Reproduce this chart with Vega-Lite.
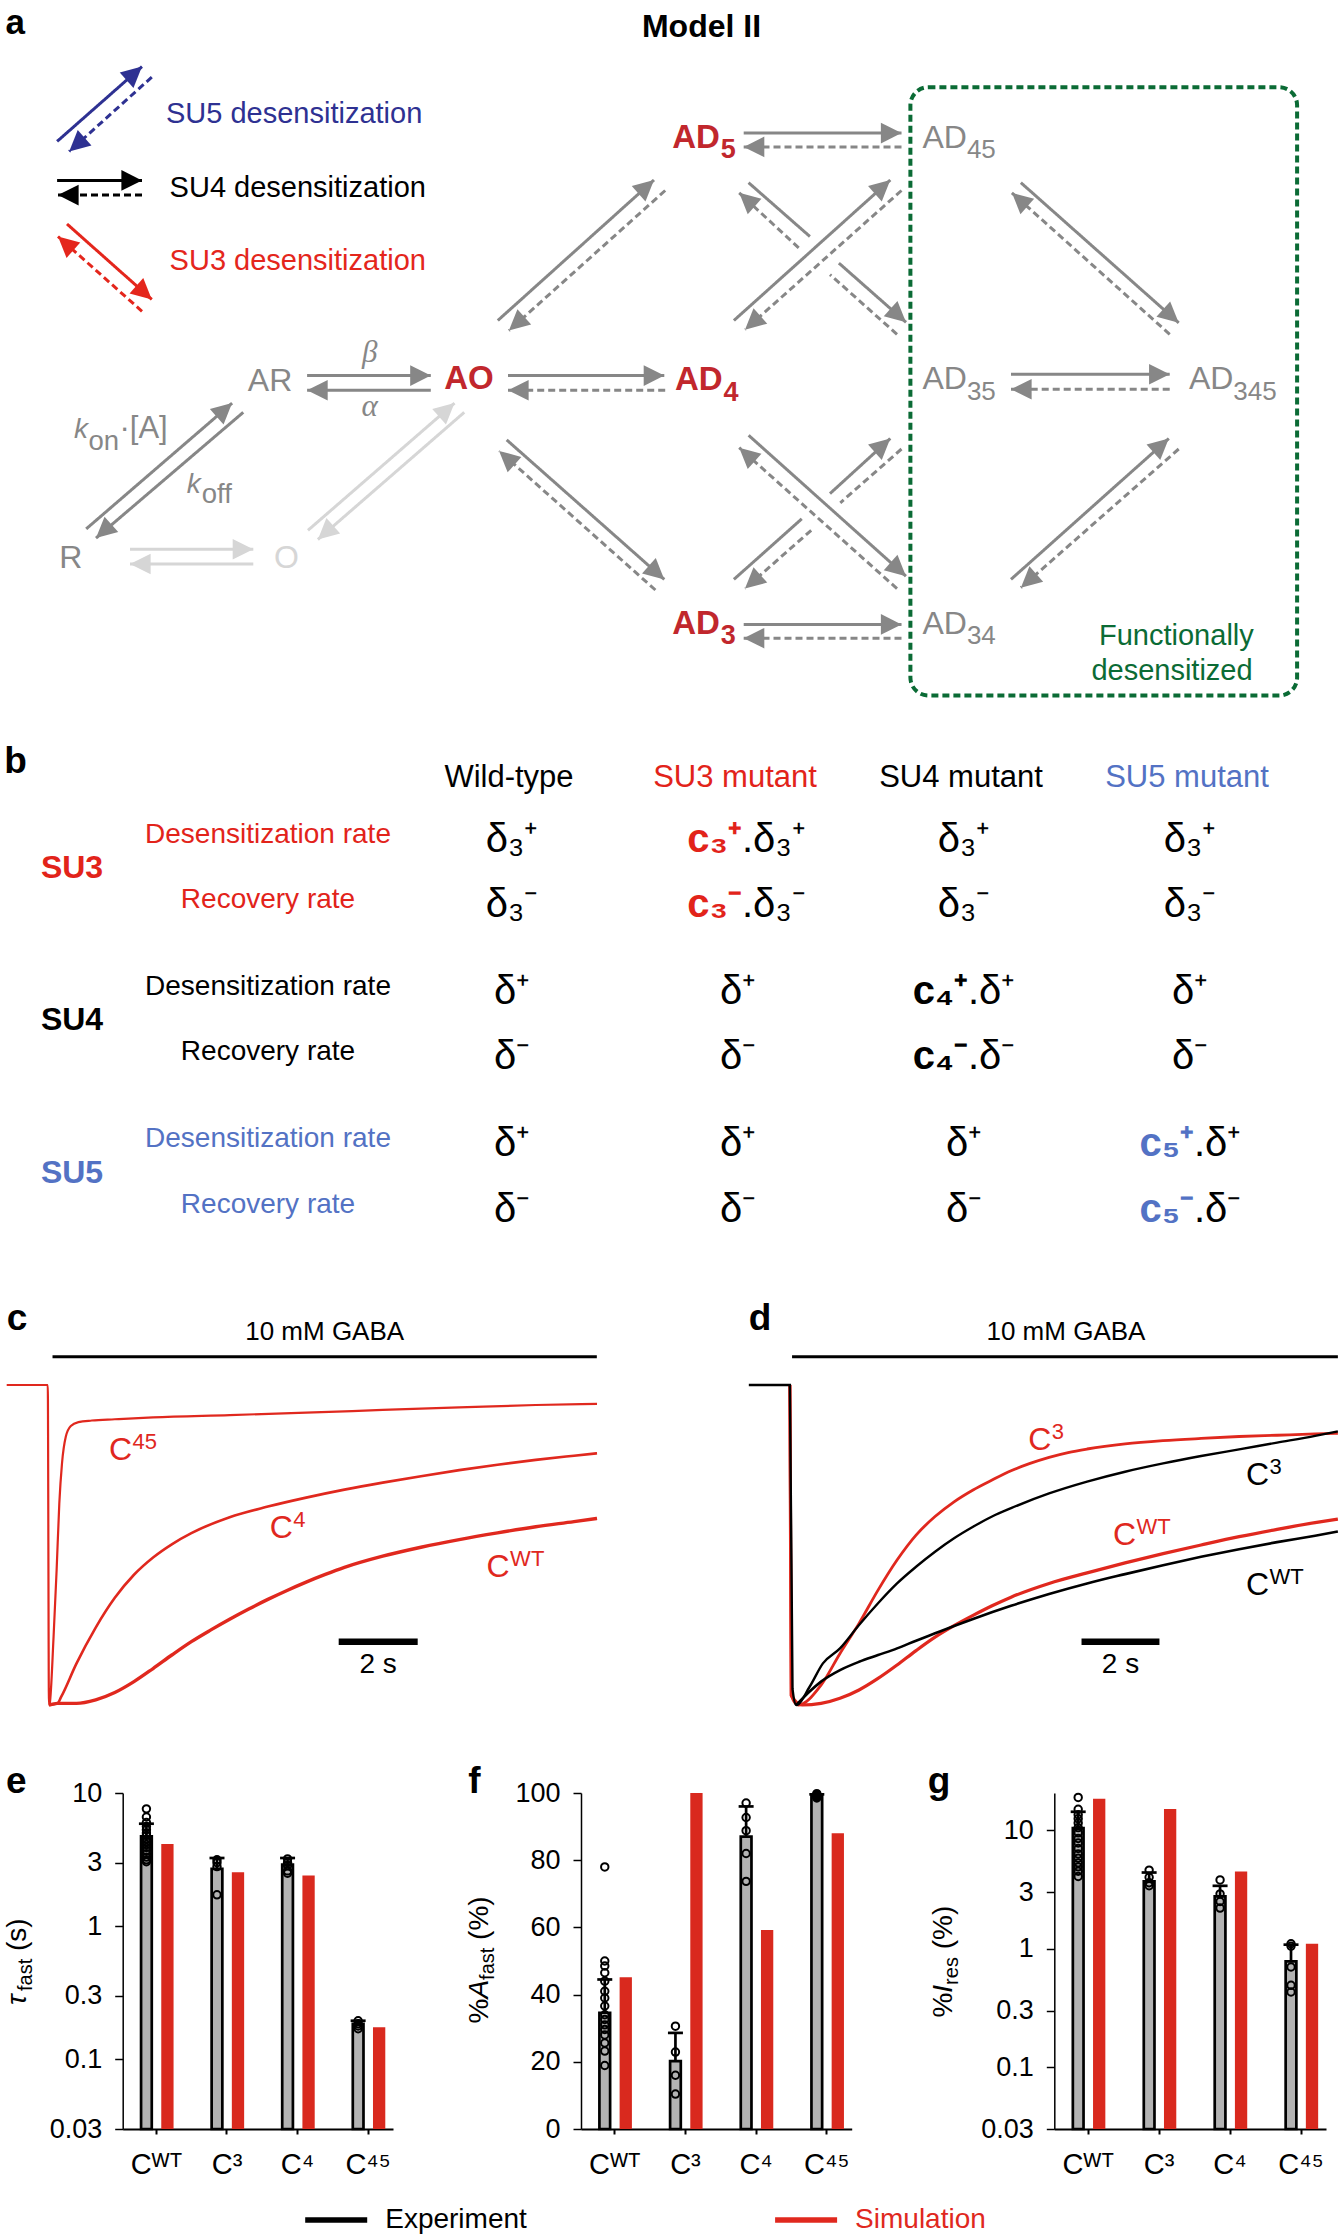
{
"$schema":"https://vega.github.io/schema/vega-lite/v6.json",
"padding":0,"spacing":0,"bounds":"flush","background":"white",
"resolve":{"scale":{"color":"independent"}},
"config":{"view":{"stroke":null},"font":"Liberation Sans"},
"datasets":{
"arrows":[
{"gx":57.1,"gy":141.4,"gx2":142,"gy2":66.6,"line":"solid","tone":"blue","dir":"NE","head":1},
{"gx":151.8,"gy":77.1,"gx2":69.2,"gy2":151.5,"line":"dashed","tone":"blue","dir":"SW","head":1},
{"gx":57.1,"gy":180.4,"gx2":142,"gy2":180.4,"line":"solid","tone":"black","dir":"E","head":1},
{"gx":142,"gy":195.1,"gx2":58,"gy2":195.1,"line":"dashed","tone":"black","dir":"W","head":1},
{"gx":67,"gy":224,"gx2":151.8,"gy2":299.4,"line":"solid","tone":"red","dir":"SE","head":1},
{"gx":142,"gy":311.3,"gx2":58,"gy2":236.5,"line":"dashed","tone":"red","dir":"NW","head":1},
{"gx":307.1,"gy":375.6,"gx2":430.8,"gy2":375.6,"line":"solid","tone":"grey","dir":"E","head":1},
{"gx":430.8,"gy":390.3,"gx2":307.1,"gy2":390.3,"line":"solid","tone":"grey","dir":"W","head":1},
{"gx":86.2,"gy":528.9,"gx2":232.1,"gy2":403.1,"line":"solid","tone":"grey","dir":"NE","head":1},
{"gx":243.3,"gy":412.3,"gx2":96,"gy2":538.1,"line":"solid","tone":"grey","dir":"SW","head":1},
{"gx":130,"gy":549.3,"gx2":253.3,"gy2":549.3,"line":"solid","tone":"light","dir":"E","head":1},
{"gx":253.3,"gy":564,"gx2":130,"gy2":564,"line":"solid","tone":"light","dir":"W","head":1},
{"gx":308,"gy":530.3,"gx2":454.5,"gy2":403.1,"line":"solid","tone":"light","dir":"NE","head":1},
{"gx":464.3,"gy":412.3,"gx2":317.9,"gy2":539.5,"line":"solid","tone":"light","dir":"SW","head":1},
{"gx":497.8,"gy":320.5,"gx2":654,"gy2":180,"line":"solid","tone":"grey","dir":"NE","head":1},
{"gx":665.2,"gy":190.5,"gx2":508.9,"gy2":330.6,"line":"dashed","tone":"grey","dir":"SW","head":1},
{"gx":508,"gy":375.6,"gx2":664.3,"gy2":375.6,"line":"solid","tone":"grey","dir":"E","head":1},
{"gx":665.2,"gy":390.3,"gx2":508,"gy2":390.3,"line":"dashed","tone":"grey","dir":"W","head":1},
{"gx":506.7,"gy":439.9,"gx2":664.3,"gy2":579.4,"line":"solid","tone":"grey","dir":"SE","head":1},
{"gx":655.4,"gy":590,"gx2":499.1,"gy2":450.9,"line":"dashed","tone":"grey","dir":"NW","head":1},
{"gx":743.7,"gy":133.1,"gx2":901.5,"gy2":133.1,"line":"solid","tone":"grey","dir":"E","head":1},
{"gx":901.5,"gy":146.9,"gx2":743.7,"gy2":146.9,"line":"dashed","tone":"grey","dir":"W","head":1},
{"gx":748.6,"gy":182.7,"gx2":809.9,"gy2":236.5,"line":"solid","tone":"grey","dir":"SE","head":0},
{"gx":838.9,"gy":263.1,"gx2":906,"gy2":322.3,"line":"solid","tone":"grey","dir":"SE","head":1},
{"gx":897,"gy":334.3,"gx2":830,"gy2":274.6,"line":"dashed","tone":"grey","dir":"NW","head":0},
{"gx":798.7,"gy":247.9,"gx2":739.2,"gy2":192.8,"line":"dashed","tone":"grey","dir":"NW","head":1},
{"gx":733.9,"gy":320.5,"gx2":890.3,"gy2":180,"line":"solid","tone":"grey","dir":"NE","head":1},
{"gx":901.5,"gy":190.5,"gx2":745,"gy2":329.7,"line":"dashed","tone":"grey","dir":"SW","head":1},
{"gx":748.6,"gy":435.3,"gx2":906,"gy2":576.2,"line":"solid","tone":"grey","dir":"SE","head":1},
{"gx":897,"gy":588.6,"gx2":739.2,"gy2":447.7,"line":"dashed","tone":"grey","dir":"NW","head":1},
{"gx":733.9,"gy":579.4,"gx2":801.8,"gy2":518.8,"line":"solid","tone":"grey","dir":"NE","head":0},
{"gx":830,"gy":493.6,"gx2":890.3,"gy2":438.5,"line":"solid","tone":"grey","dir":"NE","head":1},
{"gx":901.5,"gy":449,"gx2":840.3,"gy2":502.8,"line":"dashed","tone":"grey","dir":"SW","head":0},
{"gx":811.2,"gy":530.3,"gx2":745,"gy2":588.6,"line":"dashed","tone":"grey","dir":"SW","head":1},
{"gx":743.7,"gy":624.4,"gx2":901.5,"gy2":624.4,"line":"solid","tone":"grey","dir":"E","head":1},
{"gx":901.5,"gy":638.2,"gx2":743.7,"gy2":638.2,"line":"dashed","tone":"grey","dir":"W","head":1},
{"gx":1020.9,"gy":182.7,"gx2":1178.7,"gy2":322.8,"line":"solid","tone":"grey","dir":"SE","head":1},
{"gx":1169.7,"gy":334.3,"gx2":1011.9,"gy2":192.8,"line":"dashed","tone":"grey","dir":"NW","head":1},
{"gx":1011,"gy":374.2,"gx2":1169.7,"gy2":374.2,"line":"solid","tone":"grey","dir":"E","head":1},
{"gx":1169.7,"gy":389.3,"gx2":1011,"gy2":389.3,"line":"dashed","tone":"grey","dir":"W","head":1},
{"gx":1011,"gy":579.4,"gx2":1168.8,"gy2":438.5,"line":"solid","tone":"grey","dir":"NE","head":1},
{"gx":1178.7,"gy":449,"gx2":1020.9,"gy2":587.7,"line":"dashed","tone":"grey","dir":"SW","head":1}
],
"rowlab":[
{"col":"lbl","grp":"SU3","tone":"tred","kind":"d","s":"Desensitization rate"},
{"col":"lbl","grp":"SU3","tone":"tred","kind":"r","s":"Recovery rate"},
{"col":"lbl","grp":"SU4","tone":"tblack","kind":"d","s":"Desensitization rate"},
{"col":"lbl","grp":"SU4","tone":"tblack","kind":"r","s":"Recovery rate"},
{"col":"lbl","grp":"SU5","tone":"tblue","kind":"d","s":"Desensitization rate"},
{"col":"lbl","grp":"SU5","tone":"tblue","kind":"r","s":"Recovery rate"}
],
"cells":[
{"col":"WT","grp":"SU3","kind":"d","s":"δ₃⁺"},{"col":"SU4m","grp":"SU3","kind":"d","s":"δ₃⁺"},{"col":"SU5m","grp":"SU3","kind":"d","s":"δ₃⁺"},
{"col":"WT","grp":"SU3","kind":"r","s":"δ₃⁻"},{"col":"SU4m","grp":"SU3","kind":"r","s":"δ₃⁻"},{"col":"SU5m","grp":"SU3","kind":"r","s":"δ₃⁻"},
{"col":"WT","grp":"SU4","kind":"d","s":"δ⁺"},{"col":"SU3m","grp":"SU4","kind":"d","s":"δ⁺"},{"col":"SU5m","grp":"SU4","kind":"d","s":"δ⁺"},
{"col":"WT","grp":"SU4","kind":"r","s":"δ⁻"},{"col":"SU3m","grp":"SU4","kind":"r","s":"δ⁻"},{"col":"SU5m","grp":"SU4","kind":"r","s":"δ⁻"},
{"col":"WT","grp":"SU5","kind":"d","s":"δ⁺"},{"col":"SU3m","grp":"SU5","kind":"d","s":"δ⁺"},{"col":"SU4m","grp":"SU5","kind":"d","s":"δ⁺"},
{"col":"WT","grp":"SU5","kind":"r","s":"δ⁻"},{"col":"SU3m","grp":"SU5","kind":"r","s":"δ⁻"},{"col":"SU4m","grp":"SU5","kind":"r","s":"δ⁻"}
],
"mods":[
{"col":"SU3m","grp":"SU3","kind":"d","c":"c₃⁺","s":".δ₃⁺","tone":"tred"},
{"col":"SU3m","grp":"SU3","kind":"r","c":"c₃⁻","s":".δ₃⁻","tone":"tred"},
{"col":"SU4m","grp":"SU4","kind":"d","c":"c₄⁺","s":".δ⁺","tone":"tblack"},
{"col":"SU4m","grp":"SU4","kind":"r","c":"c₄⁻","s":".δ⁻","tone":"tblack"},
{"col":"SU5m","grp":"SU5","kind":"d","c":"c₅⁺","s":".δ⁺","tone":"tblue"},
{"col":"SU5m","grp":"SU5","kind":"r","c":"c₅⁻","s":".δ⁻","tone":"tblue"}
],
"c_tr":[
{"s":"C45","t":0,"I":0},{"s":"C45","t":1.04,"I":0},{"s":"C45","t":1.07,"I":-1},{"s":"C45","t":1.09,"I":-0.995},{"s":"C45","t":1.187,"I":-0.786},{"s":"C45","t":1.264,"I":-0.578},{"s":"C45","t":1.332,"I":-0.37},{"s":"C45","t":1.4,"I":-0.245},{"s":"C45","t":1.497,"I":-0.161},{"s":"C45","t":1.623,"I":-0.128},{"s":"C45","t":1.816,"I":-0.116},{"s":"C45","t":2.156,"I":-0.111},{"s":"C45","t":2.737,"I":-0.107},{"s":"C45","t":3.706,"I":-0.101},{"s":"C45","t":5.644,"I":-0.094},{"s":"C45","t":7.581,"I":-0.0865},{"s":"C45","t":9.519,"I":-0.078},{"s":"C45","t":11.457,"I":-0.07},{"s":"C45","t":13.394,"I":-0.0625},{"s":"C45","t":14.945,"I":-0.059},
{"s":"C4","t":1.07,"I":-1},{"s":"C4","t":1.284,"I":-0.995},{"s":"C4","t":1.381,"I":-0.974},{"s":"C4","t":1.768,"I":-0.87},{"s":"C4","t":2.253,"I":-0.758},{"s":"C4","t":2.737,"I":-0.665},{"s":"C4","t":3.222,"I":-0.593},{"s":"C4","t":3.706,"I":-0.539},{"s":"C4","t":4.19,"I":-0.497},{"s":"C4","t":4.675,"I":-0.463},{"s":"C4","t":5.644,"I":-0.413},{"s":"C4","t":6.612,"I":-0.38},{"s":"C4","t":7.581,"I":-0.352},{"s":"C4","t":8.55,"I":-0.327},{"s":"C4","t":9.519,"I":-0.305},{"s":"C4","t":10.488,"I":-0.285},{"s":"C4","t":11.457,"I":-0.266},{"s":"C4","t":12.426,"I":-0.249},{"s":"C4","t":13.394,"I":-0.234},{"s":"C4","t":14.363,"I":-0.221},{"s":"C4","t":14.945,"I":-0.2135},
{"s":"CWT","t":1.07,"I":-1},{"s":"CWT","t":1.284,"I":-0.995},{"s":"CWT","t":1.768,"I":-0.995},{"s":"CWT","t":2.253,"I":-0.984},{"s":"CWT","t":2.737,"I":-0.961},{"s":"CWT","t":3.222,"I":-0.927},{"s":"CWT","t":3.706,"I":-0.886},{"s":"CWT","t":4.19,"I":-0.843},{"s":"CWT","t":4.675,"I":-0.802},{"s":"CWT","t":5.159,"I":-0.766},{"s":"CWT","t":5.644,"I":-0.732},{"s":"CWT","t":6.128,"I":-0.7},{"s":"CWT","t":6.612,"I":-0.67},{"s":"CWT","t":7.097,"I":-0.642},{"s":"CWT","t":7.581,"I":-0.616},{"s":"CWT","t":8.066,"I":-0.592},{"s":"CWT","t":8.55,"I":-0.57},{"s":"CWT","t":9.519,"I":-0.535},{"s":"CWT","t":10.488,"I":-0.507},{"s":"CWT","t":11.457,"I":-0.483},{"s":"CWT","t":12.426,"I":-0.462},{"s":"CWT","t":13.394,"I":-0.443},{"s":"CWT","t":14.363,"I":-0.427},{"s":"CWT","t":14.945,"I":-0.417}
],
"d_tr":[
{"s":"C3sim","t":1.054,"I":0},{"s":"C3sim","t":1.09,"I":-0.97},{"s":"C3sim","t":1.268,"I":-1},{"s":"C3sim","t":1.854,"I":-0.938},{"s":"C3sim","t":2.341,"I":-0.839},{"s":"C3sim","t":2.829,"I":-0.745},{"s":"C3sim","t":3.317,"I":-0.641},{"s":"C3sim","t":3.805,"I":-0.547},{"s":"C3sim","t":4.293,"I":-0.469},{"s":"C3sim","t":4.78,"I":-0.411},{"s":"C3sim","t":5.268,"I":-0.365},{"s":"C3sim","t":5.756,"I":-0.328},{"s":"C3sim","t":6.244,"I":-0.297},{"s":"C3sim","t":6.731,"I":-0.268},{"s":"C3sim","t":7.219,"I":-0.245},{"s":"C3sim","t":7.707,"I":-0.226},{"s":"C3sim","t":8.195,"I":-0.211},{"s":"C3sim","t":8.683,"I":-0.2},{"s":"C3sim","t":9.658,"I":-0.184},{"s":"C3sim","t":10.634,"I":-0.174},{"s":"C3sim","t":11.609,"I":-0.167},{"s":"C3sim","t":12.585,"I":-0.161},{"s":"C3sim","t":13.56,"I":-0.157},{"s":"C3sim","t":14.536,"I":-0.153},{"s":"C3sim","t":15.12,"I":-0.151},
{"s":"WTsim","t":1.054,"I":0},{"s":"WTsim","t":1.09,"I":-0.97},{"s":"WTsim","t":1.366,"I":-1},{"s":"WTsim","t":1.854,"I":-0.995},{"s":"WTsim","t":2.341,"I":-0.979},{"s":"WTsim","t":2.829,"I":-0.953},{"s":"WTsim","t":3.317,"I":-0.917},{"s":"WTsim","t":3.805,"I":-0.875},{"s":"WTsim","t":4.293,"I":-0.83},{"s":"WTsim","t":4.78,"I":-0.788},{"s":"WTsim","t":5.268,"I":-0.752},{"s":"WTsim","t":5.756,"I":-0.72},{"s":"WTsim","t":6.244,"I":-0.69},{"s":"WTsim","t":6.731,"I":-0.663},{"s":"WTsim","t":7.707,"I":-0.62},{"s":"WTsim","t":8.683,"I":-0.587},{"s":"WTsim","t":9.658,"I":-0.556},{"s":"WTsim","t":10.634,"I":-0.527},{"s":"WTsim","t":11.609,"I":-0.5},{"s":"WTsim","t":12.585,"I":-0.474},{"s":"WTsim","t":13.56,"I":-0.451},{"s":"WTsim","t":14.536,"I":-0.43},{"s":"WTsim","t":15.12,"I":-0.419},
{"s":"C3exp","t":0,"I":0},{"s":"C3exp","t":1.054,"I":0},{"s":"C3exp","t":1.122,"I":-0.95},{"s":"C3exp","t":1.219,"I":-1},{"s":"C3exp","t":1.561,"I":-0.943},{"s":"C3exp","t":1.902,"I":-0.87},{"s":"C3exp","t":2.341,"I":-0.823},{"s":"C3exp","t":2.829,"I":-0.75},{"s":"C3exp","t":3.317,"I":-0.682},{"s":"C3exp","t":3.805,"I":-0.62},{"s":"C3exp","t":4.293,"I":-0.568},{"s":"C3exp","t":4.78,"I":-0.521},{"s":"C3exp","t":5.268,"I":-0.479},{"s":"C3exp","t":5.756,"I":-0.443},{"s":"C3exp","t":6.244,"I":-0.411},{"s":"C3exp","t":6.731,"I":-0.385},{"s":"C3exp","t":7.707,"I":-0.339},{"s":"C3exp","t":8.683,"I":-0.302},{"s":"C3exp","t":9.658,"I":-0.271},{"s":"C3exp","t":10.634,"I":-0.245},{"s":"C3exp","t":11.609,"I":-0.222},{"s":"C3exp","t":12.585,"I":-0.201},{"s":"C3exp","t":13.56,"I":-0.18},{"s":"C3exp","t":14.536,"I":-0.159},{"s":"C3exp","t":15.12,"I":-0.145},
{"s":"WTexp","t":1.219,"I":-1},{"s":"WTexp","t":1.561,"I":-0.958},{"s":"WTexp","t":1.854,"I":-0.927},{"s":"WTexp","t":2.341,"I":-0.891},{"s":"WTexp","t":2.829,"I":-0.865},{"s":"WTexp","t":3.317,"I":-0.844},{"s":"WTexp","t":3.805,"I":-0.823},{"s":"WTexp","t":4.293,"I":-0.799},{"s":"WTexp","t":4.78,"I":-0.776},{"s":"WTexp","t":5.268,"I":-0.753},{"s":"WTexp","t":5.756,"I":-0.731},{"s":"WTexp","t":6.731,"I":-0.69},{"s":"WTexp","t":7.707,"I":-0.653},{"s":"WTexp","t":8.683,"I":-0.62},{"s":"WTexp","t":9.658,"I":-0.591},{"s":"WTexp","t":10.634,"I":-0.563},{"s":"WTexp","t":11.609,"I":-0.537},{"s":"WTexp","t":12.585,"I":-0.513},{"s":"WTexp","t":13.56,"I":-0.491},{"s":"WTexp","t":14.536,"I":-0.471},{"s":"WTexp","t":15.12,"I":-0.458}
],
"e_bars":[{"cond":"Cᵂᵀ","exp":4.72,"up":5.88,"sim":4.14},{"cond":"C³","exp":2.69,"up":3.25,"sim":2.54},{"cond":"C⁴","exp":2.9,"up":3.25,"sim":2.4},{"cond":"C⁴⁵","exp":0.185,"up":0.195,"sim":0.174}],
"e_pts":[{"cond":"Cᵂᵀ","v":7.6},{"cond":"Cᵂᵀ","v":6.6},{"cond":"Cᵂᵀ","v":6.0},{"cond":"Cᵂᵀ","v":5.6},{"cond":"Cᵂᵀ","v":5.3},{"cond":"Cᵂᵀ","v":5.0},{"cond":"Cᵂᵀ","v":4.8},{"cond":"Cᵂᵀ","v":4.5},{"cond":"Cᵂᵀ","v":4.3},{"cond":"Cᵂᵀ","v":4.1},{"cond":"Cᵂᵀ","v":3.9},{"cond":"Cᵂᵀ","v":3.7},{"cond":"Cᵂᵀ","v":3.5},{"cond":"Cᵂᵀ","v":3.3},{"cond":"Cᵂᵀ","v":3.15},{"cond":"Cᵂᵀ","v":3.05},
{"cond":"C³","v":3.15},{"cond":"C³","v":3.0},{"cond":"C³","v":2.8},{"cond":"C³","v":1.72},
{"cond":"C⁴","v":3.2},{"cond":"C⁴","v":3.0},{"cond":"C⁴","v":2.85},{"cond":"C⁴","v":2.6},{"cond":"C⁴","v":2.5},
{"cond":"C⁴⁵","v":0.195},{"cond":"C⁴⁵","v":0.185},{"cond":"C⁴⁵","v":0.178},{"cond":"C⁴⁵","v":0.17}],
"f_bars":[{"cond":"Cᵂᵀ","exp":34.6,"up":44.5,"sim":45.2},{"cond":"C³","exp":20.2,"up":28.6,"sim":100},{"cond":"C⁴","exp":87,"up":96,"sim":59.2},{"cond":"C⁴⁵","exp":99.2,"up":99.6,"sim":88}],
"f_pts":[{"cond":"Cᵂᵀ","v":78},{"cond":"Cᵂᵀ","v":50},{"cond":"Cᵂᵀ","v":48.5},{"cond":"Cᵂᵀ","v":46.5},{"cond":"Cᵂᵀ","v":44},{"cond":"Cᵂᵀ","v":41},{"cond":"Cᵂᵀ","v":39},{"cond":"Cᵂᵀ","v":36.6},{"cond":"Cᵂᵀ","v":34},{"cond":"Cᵂᵀ","v":32.6},{"cond":"Cᵂᵀ","v":31},{"cond":"Cᵂᵀ","v":29.6},{"cond":"Cᵂᵀ","v":28},{"cond":"Cᵂᵀ","v":25.6},{"cond":"Cᵂᵀ","v":23.2},{"cond":"Cᵂᵀ","v":18.9},
{"cond":"C³","v":30.6},{"cond":"C³","v":22.9},{"cond":"C³","v":16},{"cond":"C³","v":10.4},
{"cond":"C⁴","v":97},{"cond":"C⁴","v":92.7},{"cond":"C⁴","v":88.8},{"cond":"C⁴","v":82},{"cond":"C⁴","v":73.7},
{"cond":"C⁴⁵","v":99.8},{"cond":"C⁴⁵","v":99.5},{"cond":"C⁴⁵","v":99.2},{"cond":"C⁴⁵","v":98.8},{"cond":"C⁴⁵","v":98.5}],
"g_bars":[{"cond":"Cᵂᵀ","exp":10.4,"up":14.3,"sim":18.4},{"cond":"C³","exp":3.69,"up":4.39,"sim":15.1},{"cond":"C⁴","exp":2.76,"up":3.39,"sim":4.47},{"cond":"C⁴⁵","exp":0.78,"up":1.08,"sim":1.1}],
"g_pts":[{"cond":"Cᵂᵀ","v":18.9},{"cond":"Cᵂᵀ","v":15},{"cond":"Cᵂᵀ","v":13.5},{"cond":"Cᵂᵀ","v":12.5},{"cond":"Cᵂᵀ","v":11.5},{"cond":"Cᵂᵀ","v":10.5},{"cond":"Cᵂᵀ","v":9.5},{"cond":"Cᵂᵀ","v":8.5},{"cond":"Cᵂᵀ","v":7.8},{"cond":"Cᵂᵀ","v":7.0},{"cond":"Cᵂᵀ","v":6.3},{"cond":"Cᵂᵀ","v":5.8},{"cond":"Cᵂᵀ","v":5.3},{"cond":"Cᵂᵀ","v":4.9},{"cond":"Cᵂᵀ","v":4.5},{"cond":"Cᵂᵀ","v":4.06},
{"cond":"C³","v":4.6},{"cond":"C³","v":4.0},{"cond":"C³","v":3.6},{"cond":"C³","v":3.4},
{"cond":"C⁴","v":3.8},{"cond":"C⁴","v":2.9},{"cond":"C⁴","v":2.5},{"cond":"C⁴","v":2.2},
{"cond":"C⁴⁵","v":1.1},{"cond":"C⁴⁵","v":1.05},{"cond":"C⁴⁵","v":0.7},{"cond":"C⁴⁵","v":0.49},{"cond":"C⁴⁵","v":0.43}]
},
"vconcat":[
{
"width":1341,"height":713,
"encoding":{
"x":{"field":"gx","type":"quantitative","scale":{"domain":[0,1341],"nice":false,"zero":false},"axis":null},
"y":{"field":"gy","type":"quantitative","scale":{"domain":[0,713],"nice":false,"zero":false,"reverse":true},"axis":null}
},
"layer":[
{"data":{"values":[{"gx":910.4,"gy":87.2,"gx2":1297.1,"gy2":695.6}]},
 "mark":{"type":"rect","fill":"#ffffff","fillOpacity":0,"stroke":"#0b6b35","strokeWidth":4,"strokeDash":[7,4],"cornerRadius":18},
 "encoding":{"x2":{"field":"gx2"},"y2":{"field":"gy2"}}},
{"data":{"name":"arrows"},
 "mark":{"type":"rule","strokeWidth":3},
 "encoding":{"x2":{"field":"gx2"},"y2":{"field":"gy2"},
  "color":{"field":"tone","type":"nominal","scale":{"domain":["grey","light","black","blue","red","dred","green"],"range":["#878787","#d6d6d6","#000000","#2e3192","#e4261c","#c1272d","#0b6b35"]},"legend":null},
  "strokeDash":{"field":"line","type":"nominal","scale":{"domain":["solid","dashed"],"range":[[1,0],[7,4]]},"legend":null}}},
{"data":{"name":"arrows"},"transform":[{"filter":"datum.head == 1"}],
 "mark":{"type":"point","shape":"M0,0L0.5,1L-0.5,1Z","filled":true,"size":1700,"opacity":1,"strokeWidth":0},
 "encoding":{"x":{"field":"gx2","type":"quantitative"},"y":{"field":"gy2","type":"quantitative"},
  "color":{"field":"tone","type":"nominal","legend":null},
  "angle":{"field":"dir","type":"ordinal","scale":{"type":"ordinal","domain":["E","W","NE","SW","SE","NW"],"range":[90,270,48.3,228.3,131.7,311.7]},"legend":null}}},
{"data":{"values":[{"gx":5.4,"gy":34,"s":"a"}]},"mark":{"type":"text","fontSize":35,"fontWeight":"bold","align":"left","baseline":"alphabetic","color":"#000"},"encoding":{"text":{"field":"s"}}},
{"data":{"values":[{"gx":701.5,"gy":36.7,"s":"Model II"}]},"mark":{"type":"text","fontSize":32,"fontWeight":"bold","align":"center","baseline":"alphabetic","color":"#000"},"encoding":{"text":{"field":"s"}}},
{"data":{"values":[{"gx":166,"gy":123,"s":"SU5 desensitization","tone":"blue"},{"gx":169.6,"gy":197.4,"s":"SU4 desensitization","tone":"black"},{"gx":169.6,"gy":270,"s":"SU3 desensitization","tone":"red"}]},
 "mark":{"type":"text","fontSize":29,"align":"left","baseline":"alphabetic"},"encoding":{"text":{"field":"s"},"color":{"field":"tone","type":"nominal","legend":null}}},
{"data":{"values":[{"gx":247.8,"gy":391.2,"s":"AR","tone":"grey"},{"gx":59.3,"gy":568.3,"s":"R","tone":"grey"},{"gx":274,"gy":568.3,"s":"O","tone":"light"},{"gx":922.5,"gy":147.8,"s":"AD","tone":"grey"},{"gx":922.5,"gy":389.3,"s":"AD","tone":"grey"},{"gx":922.5,"gy":633.6,"s":"AD","tone":"grey"},{"gx":1188.9,"gy":389.3,"s":"AD","tone":"grey"}]},
 "mark":{"type":"text","fontSize":32,"align":"left","baseline":"alphabetic"},"encoding":{"text":{"field":"s"},"color":{"field":"tone","type":"nominal","legend":null}}},
{"data":{"values":[{"gx":922.5,"gy":147.8,"s":"45"},{"gx":922.5,"gy":389.3,"s":"35"},{"gx":922.5,"gy":633.6,"s":"34"},{"gx":1188.9,"gy":389.3,"s":"345"}]},
 "mark":{"type":"text","fontSize":26,"align":"left","baseline":"alphabetic","dx":44.4,"dy":10.6,"color":"#878787"},"encoding":{"text":{"field":"s"}}},
{"data":{"values":[{"gx":444.2,"gy":389.3,"s":"AO"},{"gx":672.2,"gy":147.8,"s":"AD"},{"gx":674.9,"gy":390.3,"s":"AD"},{"gx":672.2,"gy":633.6,"s":"AD"}]},
 "mark":{"type":"text","fontSize":33,"fontWeight":"bold","align":"left","baseline":"alphabetic","color":"#c1272d"},"encoding":{"text":{"field":"s"}}},
{"data":{"values":[{"gx":672.2,"gy":147.8,"s":"5"},{"gx":674.9,"gy":390.3,"s":"4"},{"gx":672.2,"gy":633.6,"s":"3"}]},
 "mark":{"type":"text","fontSize":27,"fontWeight":"bold","align":"left","baseline":"alphabetic","dx":48.5,"dy":10.6,"color":"#c1272d"},"encoding":{"text":{"field":"s"}}},
{"data":{"values":[{"gx":74,"gy":438.3,"s":"k"},{"gx":186.7,"gy":493.3,"s":"k"}]},
 "mark":{"type":"text","fontSize":28,"fontStyle":"italic","align":"left","baseline":"alphabetic","color":"#878787"},"encoding":{"text":{"field":"s"}}},
{"data":{"values":[{"gx":88.5,"gy":450,"s":"on"},{"gx":201.7,"gy":503.3,"s":"off"}]},
 "mark":{"type":"text","fontSize":27.5,"align":"left","baseline":"alphabetic","color":"#878787"},"encoding":{"text":{"field":"s"}}},
{"data":{"values":[{"gx":119.5,"gy":438.3,"s":"·[A]"}]},
 "mark":{"type":"text","fontSize":31,"align":"left","baseline":"alphabetic","color":"#878787"},"encoding":{"text":{"field":"s"}}},
{"data":{"values":[{"gx":369.6,"gy":362,"s":"β"},{"gx":369.6,"gy":415.5,"s":"α"}]},
 "mark":{"type":"text","fontSize":31,"font":"Liberation Serif","fontStyle":"italic","align":"center","baseline":"alphabetic","color":"#878787"},"encoding":{"text":{"field":"s"}}},
{"data":{"values":[{"gx":1176.4,"gy":645,"s":"Functionally"},{"gx":1172,"gy":679.5,"s":"desensitized"}]},
 "mark":{"type":"text","fontSize":29,"align":"center","baseline":"alphabetic","color":"#0b6b35"},"encoding":{"text":{"field":"s"}}}
]
},
{
"width":1341,"height":87,
"encoding":{
"x":{"field":"col","type":"nominal","scale":{"type":"point","domain":["grp","lbl","WT","SU3m","SU4m","SU5m"],"range":[60,1190],"padding":0},"axis":null},
"y":{"datum":0.149,"type":"quantitative","scale":{"domain":[0,1],"nice":false},"axis":null}
},
"layer":[
{"data":{"values":[{"col":"WT","s":"Wild-type","tone":"tblack"},{"col":"SU3m","s":"SU3 mutant","tone":"tred"},{"col":"SU4m","s":"SU4 mutant","tone":"tblack"},{"col":"SU5m","s":"SU5 mutant","tone":"tblue"}]},
 "mark":{"type":"text","fontSize":31,"dx":-3,"align":"center","baseline":"alphabetic"},
 "encoding":{"text":{"field":"s"},"color":{"field":"tone","type":"nominal","scale":{"domain":["tblack","tred","tblue"],"range":["#000000","#e2231a","#5372c4"]},"legend":null}}},
{"data":{"values":[{"col":"grp","s":"b"}]},
 "mark":{"type":"text","fontSize":37,"fontWeight":"bold","align":"left","dx":-55.7,"baseline":"alphabetic","color":"#000"},
 "encoding":{"text":{"field":"s"},"y":{"datum":0.307,"type":"quantitative"}}}
]
},
{
"width":1341,"height":441,
"encoding":{
"x":{"field":"col","type":"nominal","scale":{"type":"point","domain":["grp","lbl","WT","SU3m","SU4m","SU5m"],"range":[60,1190],"padding":0},"axis":null},
"y":{"field":"grp","type":"nominal","scale":{"type":"point","domain":["SU3","SU4","SU5"],"range":[75.5,379.7],"padding":0},"axis":null}
},
"layer":[
{"data":{"values":[{"col":"grp","grp":"SU3","tone":"tred"},{"col":"grp","grp":"SU4","tone":"tblack"},{"col":"grp","grp":"SU5","tone":"tblue"}]},
 "mark":{"type":"text","fontSize":32,"fontWeight":"bold","dx":12,"dy":2.8,"align":"center","baseline":"alphabetic"},
 "encoding":{"text":{"field":"grp"},"color":{"field":"tone","type":"nominal","scale":{"domain":["tblack","tred","tblue"],"range":["#000000","#e2231a","#5372c4"]},"legend":null}}},
{"data":{"name":"rowlab"},"transform":[{"filter":"datum.kind == 'd'"}],
 "mark":{"type":"text","fontSize":28,"dx":-18,"dy":-32.8,"align":"center","baseline":"alphabetic"},
 "encoding":{"text":{"field":"s"},"color":{"field":"tone","type":"nominal","legend":null}}},
{"data":{"name":"rowlab"},"transform":[{"filter":"datum.kind == 'r'"}],
 "mark":{"type":"text","fontSize":28,"dx":-18,"dy":32.8,"align":"center","baseline":"alphabetic"},
 "encoding":{"text":{"field":"s"},"color":{"field":"tone","type":"nominal","legend":null}}},
{"data":{"name":"cells"},"transform":[{"filter":"datum.kind == 'd'"}],
 "mark":{"type":"text","fontSize":40,"dy":-23.8,"align":"center","baseline":"alphabetic","color":"#000"},
 "encoding":{"text":{"field":"s"}}},
{"data":{"name":"cells"},"transform":[{"filter":"datum.kind == 'r'"}],
 "mark":{"type":"text","fontSize":40,"dy":41.8,"align":"center","baseline":"alphabetic","color":"#000"},
 "encoding":{"text":{"field":"s"}}},
{"data":{"name":"mods"},"transform":[{"filter":"datum.kind == 'd'"}],
 "mark":{"type":"text","fontSize":40,"fontWeight":"bold","dx":4,"dy":-23.8,"align":"right","baseline":"alphabetic"},
 "encoding":{"text":{"field":"c"},"color":{"field":"tone","type":"nominal","legend":null}}},
{"data":{"name":"mods"},"transform":[{"filter":"datum.kind == 'r'"}],
 "mark":{"type":"text","fontSize":40,"fontWeight":"bold","dx":4,"dy":41.8,"align":"right","baseline":"alphabetic"},
 "encoding":{"text":{"field":"c"},"color":{"field":"tone","type":"nominal","legend":null}}},
{"data":{"name":"mods"},"transform":[{"filter":"datum.kind == 'd'"}],
 "mark":{"type":"text","fontSize":40,"dx":4,"dy":-23.8,"align":"left","baseline":"alphabetic","color":"#000"},
 "encoding":{"text":{"field":"s"}}},
{"data":{"name":"mods"},"transform":[{"filter":"datum.kind == 'r'"}],
 "mark":{"type":"text","fontSize":40,"dx":4,"dy":41.8,"align":"left","baseline":"alphabetic","color":"#000"},
 "encoding":{"text":{"field":"s"}}}
]
},
{
"width":1341,"height":552,
"resolve":{"scale":{"x":"independent","color":"independent"}},
"encoding":{"y":{"field":"I","type":"quantitative","scale":{"domain":[-1.275,0.45],"nice":false,"zero":false},"axis":null}},
"layer":[
{
"encoding":{"x":{"field":"t","type":"quantitative","scale":{"domain":[-0.1696,33.78],"nice":false,"zero":false},"axis":null}},
"layer":[
{"data":{"values":[{"t":1.16,"t2":14.94,"I":0.088}]},"mark":{"type":"rule","strokeWidth":3,"color":"#000"},"encoding":{"x2":{"field":"t2"}}},
{"data":{"values":[{"t":8.05,"I":0.1406,"s":"10 mM GABA"}]},"mark":{"type":"text","fontSize":26,"align":"center","baseline":"alphabetic","color":"#000"},"encoding":{"text":{"field":"s"}}},
{"data":{"values":[{"t":0,"I":0.172,"s":"c"}]},"mark":{"type":"text","fontSize":37,"fontWeight":"bold","align":"left","baseline":"alphabetic","color":"#000"},"encoding":{"text":{"field":"s"}}},
{"data":{"name":"c_tr"},"transform":[{"filter":"datum.s == 'C45'"}],"mark":{"type":"line","color":"#e0281e","strokeWidth":2.2,"interpolate":"monotone"},"encoding":{}},
{"data":{"name":"c_tr"},"transform":[{"filter":"datum.s == 'C4'"}],"mark":{"type":"line","color":"#e0281e","strokeWidth":2.6,"interpolate":"monotone"},"encoding":{}},
{"data":{"name":"c_tr"},"transform":[{"filter":"datum.s == 'CWT'"}],"mark":{"type":"line","color":"#e0281e","strokeWidth":3.4,"interpolate":"monotone"},"encoding":{}},
{"data":{"values":[{"t":2.59,"I":-0.234,"sup":"45"},{"t":6.66,"I":-0.479,"sup":"4"},{"t":12.15,"I":-0.601,"sup":"WT"}]},
 "layer":[
  {"mark":{"type":"text","text":"C","fontSize":32,"align":"left","baseline":"alphabetic","color":"#e0281e"}},
  {"mark":{"type":"text","fontSize":22,"align":"left","baseline":"alphabetic","dx":23.5,"dy":-11,"color":"#e0281e"},"encoding":{"text":{"field":"sup"}}}
 ]},
{"data":{"values":[{"t":8.405,"t2":10.405,"I":-0.802}]},"mark":{"type":"rule","strokeWidth":6.5,"color":"#000"},"encoding":{"x2":{"field":"t2"}}},
{"data":{"values":[{"t":9.405,"I":-0.9,"s":"2 s"}]},"mark":{"type":"text","fontSize":28,"align":"center","baseline":"alphabetic","color":"#000"},"encoding":{"text":{"field":"s"}}}
]
},
{
"encoding":{"x":{"field":"t","type":"quantitative","scale":{"domain":[-19.22,15.2],"nice":false,"zero":false},"axis":null}},
"layer":[
{"data":{"values":[{"t":1.11,"t2":15.12,"I":0.088}]},"mark":{"type":"rule","strokeWidth":3,"color":"#000"},"encoding":{"x2":{"field":"t2"}}},
{"data":{"values":[{"t":8.14,"I":0.1406,"s":"10 mM GABA"}]},"mark":{"type":"text","fontSize":26,"align":"center","baseline":"alphabetic","color":"#000"},"encoding":{"text":{"field":"s"}}},
{"data":{"values":[{"t":0,"I":0.172,"s":"d"}]},"mark":{"type":"text","fontSize":37,"fontWeight":"bold","align":"left","baseline":"alphabetic","color":"#000"},"encoding":{"text":{"field":"s"}}},
{"data":{"name":"d_tr"},"transform":[{"filter":"datum.s == 'C3sim'"}],"mark":{"type":"line","color":"#e0281e","strokeWidth":2.8,"interpolate":"monotone"},"encoding":{}},
{"data":{"name":"d_tr"},"transform":[{"filter":"datum.s == 'WTsim'"}],"mark":{"type":"line","color":"#e0281e","strokeWidth":3.2,"interpolate":"monotone"},"encoding":{}},
{"data":{"name":"d_tr"},"transform":[{"filter":"datum.s == 'C3exp'"}],"mark":{"type":"line","color":"#000000","strokeWidth":2.4,"interpolate":"monotone"},"encoding":{}},
{"data":{"name":"d_tr"},"transform":[{"filter":"datum.s == 'WTexp'"}],"mark":{"type":"line","color":"#000000","strokeWidth":2.6,"interpolate":"monotone"},"encoding":{}},
{"data":{"values":[{"t":7.17,"I":-0.203,"sup":"3","tone":"red"},{"t":12.76,"I":-0.3125,"sup":"3","tone":"black"},{"t":9.35,"I":-0.5,"sup":"WT","tone":"red"},{"t":12.76,"I":-0.656,"sup":"WT","tone":"black"}]},
 "encoding":{"color":{"field":"tone","type":"nominal","scale":{"domain":["red","black"],"range":["#e0281e","#000000"]},"legend":null}},
 "layer":[
  {"mark":{"type":"text","text":"C","fontSize":32,"align":"left","baseline":"alphabetic"}},
  {"mark":{"type":"text","fontSize":22,"align":"left","baseline":"alphabetic","dx":23.5,"dy":-11},"encoding":{"text":{"field":"sup"}}}
 ]},
{"data":{"values":[{"t":8.54,"t2":10.54,"I":-0.802}]},"mark":{"type":"rule","strokeWidth":6.5,"color":"#000"},"encoding":{"x2":{"field":"t2"}}},
{"data":{"values":[{"t":9.54,"I":-0.9,"s":"2 s"}]},"mark":{"type":"text","fontSize":28,"align":"center","baseline":"alphabetic","color":"#000"},"encoding":{"text":{"field":"s"}}}
]
}
]
},
{
"width":1341,"height":443,
"resolve":{"scale":{"x":"independent","y":"independent","color":"independent"},"axis":{"x":"independent","y":"independent"}},
"layer":[
{
"encoding":{"x":{"field":"cond","type":"nominal","scale":{"type":"band","domain":["Cᵂᵀ","C³","C⁴","C⁴⁵"],"range":[122.7,393],"paddingInner":0.5,"paddingOuter":0.165,"align":0.69},
 "axis":{"orient":"bottom","offset":-107,"title":null,"labelFontSize":29,"labelColor":"#000","labelPadding":16,"labelAngle":0,"domainColor":"#000","domainWidth":2.2,"tickColor":"#000","tickWidth":2,"tickSize":5}}},
"layer":[
{"data":{"name":"e_bars"},"mark":{"type":"bar","width":10.7,"xOffset":-10,"fill":"#b3b3b3","stroke":"#000","strokeWidth":2.7,"opacity":1},
 "encoding":{"y":{"field":"exp","type":"quantitative","title":null,"scale":{"type":"log","domain":[0.03,10],"range":[336,0],"nice":false},
  "axis":{"orient":"left","offset":-122.7,"title":null,"values":[0.03,0.1,0.3,1,3,10],"format":"~g","labelFontSize":27,"labelColor":"#000","labelPadding":13,"domainColor":"#000","domainWidth":1.5,"tickColor":"#000","tickWidth":1.5,"tickSize":8,"grid":false}},
  "y2":{"datum":0.03}}},
{"data":{"name":"e_bars"},"mark":{"type":"rule","xOffset":-10,"strokeWidth":2.7,"color":"#000"},"encoding":{"y":{"field":"exp","type":"quantitative","title":null},"y2":{"field":"up"}}},
{"data":{"name":"e_bars"},"mark":{"type":"tick","orient":"horizontal","xOffset":-10,"size":15,"thickness":2.7,"color":"#000","opacity":1},"encoding":{"y":{"field":"up","type":"quantitative","title":null}}},
{"data":{"name":"e_pts"},"mark":{"type":"point","shape":"circle","filled":false,"size":55,"strokeWidth":2,"color":"#000","opacity":1,"xOffset":-10},"encoding":{"y":{"field":"v","type":"quantitative","title":null}}},
{"data":{"name":"e_bars"},"mark":{"type":"bar","width":12.3,"xOffset":11,"color":"#d9291e","opacity":1},"encoding":{"y":{"field":"sim","type":"quantitative","title":null},"y2":{"datum":0.03}}}
]
},
{
"encoding":{"x":{"field":"cond","type":"nominal","scale":{"type":"band","domain":["Cᵂᵀ","C³","C⁴","C⁴⁵"],"range":[581,851.7],"paddingInner":0.5,"paddingOuter":0.165,"align":0.69},
 "axis":{"orient":"bottom","offset":-107,"title":null,"labelFontSize":29,"labelColor":"#000","labelPadding":16,"labelAngle":0,"domainColor":"#000","domainWidth":2.2,"tickColor":"#000","tickWidth":2,"tickSize":5}}},
"layer":[
{"data":{"name":"f_bars"},"mark":{"type":"bar","width":10.7,"xOffset":-10,"fill":"#b3b3b3","stroke":"#000","strokeWidth":2.7,"opacity":1},
 "encoding":{"y":{"field":"exp","type":"quantitative","title":null,"scale":{"domain":[0,100],"range":[336,0],"nice":false},
  "axis":{"orient":"left","offset":-581,"title":null,"values":[0,20,40,60,80,100],"labelFontSize":27,"labelColor":"#000","labelPadding":13,"domainColor":"#000","domainWidth":1.5,"tickColor":"#000","tickWidth":1.5,"tickSize":8,"grid":false}},
  "y2":{"datum":0}}},
{"data":{"name":"f_bars"},"mark":{"type":"rule","xOffset":-10,"strokeWidth":2.7,"color":"#000"},"encoding":{"y":{"field":"exp","type":"quantitative","title":null},"y2":{"field":"up"}}},
{"data":{"name":"f_bars"},"mark":{"type":"tick","orient":"horizontal","xOffset":-10,"size":15,"thickness":2.7,"color":"#000","opacity":1},"encoding":{"y":{"field":"up","type":"quantitative","title":null}}},
{"data":{"name":"f_pts"},"mark":{"type":"point","shape":"circle","filled":false,"size":55,"strokeWidth":2,"color":"#000","opacity":1,"xOffset":-10},"encoding":{"y":{"field":"v","type":"quantitative","title":null}}},
{"data":{"name":"f_bars"},"mark":{"type":"bar","width":12.3,"xOffset":11,"color":"#d9291e","opacity":1},"encoding":{"y":{"field":"sim","type":"quantitative","title":null},"y2":{"datum":0}}}
]
},
{
"encoding":{"x":{"field":"cond","type":"nominal","scale":{"type":"band","domain":["Cᵂᵀ","C³","C⁴","C⁴⁵"],"range":[1054.3,1326],"paddingInner":0.5,"paddingOuter":0.165,"align":0.69},
 "axis":{"orient":"bottom","offset":-107,"title":null,"labelFontSize":29,"labelColor":"#000","labelPadding":16,"labelAngle":0,"domainColor":"#000","domainWidth":2.2,"tickColor":"#000","tickWidth":2,"tickSize":5}}},
"layer":[
{"data":{"name":"g_bars"},"mark":{"type":"bar","width":10.7,"xOffset":-10,"fill":"#b3b3b3","stroke":"#000","strokeWidth":2.7,"opacity":1},
 "encoding":{"y":{"field":"exp","type":"quantitative","title":null,"scale":{"type":"log","domain":[0.03,20.6],"range":[336,0],"nice":false},
  "axis":{"orient":"left","offset":-1054.3,"title":null,"values":[0.03,0.1,0.3,1,3,10],"format":"~g","labelFontSize":27,"labelColor":"#000","labelPadding":13,"domainColor":"#000","domainWidth":1.5,"tickColor":"#000","tickWidth":1.5,"tickSize":8,"grid":false}},
  "y2":{"datum":0.03}}},
{"data":{"name":"g_bars"},"mark":{"type":"rule","xOffset":-10,"strokeWidth":2.7,"color":"#000"},"encoding":{"y":{"field":"exp","type":"quantitative","title":null},"y2":{"field":"up"}}},
{"data":{"name":"g_bars"},"mark":{"type":"tick","orient":"horizontal","xOffset":-10,"size":15,"thickness":2.7,"color":"#000","opacity":1},"encoding":{"y":{"field":"up","type":"quantitative","title":null}}},
{"data":{"name":"g_pts"},"mark":{"type":"point","shape":"circle","filled":false,"size":55,"strokeWidth":2,"color":"#000","opacity":1,"xOffset":-10},"encoding":{"y":{"field":"v","type":"quantitative","title":null}}},
{"data":{"name":"g_bars"},"mark":{"type":"bar","width":12.3,"xOffset":11,"color":"#d9291e","opacity":1},"encoding":{"y":{"field":"sim","type":"quantitative","title":null},"y2":{"datum":0.03}}}
]
},
{
"encoding":{
"x":{"field":"gx","type":"quantitative","scale":{"domain":[0,1341],"nice":false,"zero":false},"axis":null},
"y":{"field":"gy","type":"quantitative","scale":{"domain":[0,443],"nice":false,"zero":false,"reverse":true},"axis":null}
},
"layer":[
{"data":{"values":[{"gx":6,"gy":0,"s":"e"},{"gx":468.3,"gy":0,"s":"f"},{"gx":927.7,"gy":0,"s":"g"}]},
 "mark":{"type":"text","fontSize":37,"fontWeight":"bold","align":"left","baseline":"alphabetic","color":"#000"},"encoding":{"text":{"field":"s"}}},
{"data":{"values":[{"gx":26.4,"gy":168.7,"s":"τ"}]},"mark":{"type":"text","fontSize":28,"fontStyle":"italic","angle":270,"align":"left","baseline":"alphabetic","dx":-43.3,"color":"#000"},"encoding":{"text":{"field":"s"}}},
{"data":{"values":[{"gx":26.4,"gy":168.7,"s":"fast"}]},"mark":{"type":"text","fontSize":20,"angle":270,"align":"left","baseline":"alphabetic","dx":-29.3,"dy":6,"color":"#000"},"encoding":{"text":{"field":"s"}}},
{"data":{"values":[{"gx":26.4,"gy":168.7,"s":"(s)"}]},"mark":{"type":"text","fontSize":28,"angle":270,"align":"left","baseline":"alphabetic","dx":10.7,"color":"#000"},"encoding":{"text":{"field":"s"}}},
{"data":{"values":[{"gx":488.3,"gy":167,"s":"%"}]},"mark":{"type":"text","fontSize":28,"angle":270,"align":"left","baseline":"alphabetic","dx":-63.5,"color":"#000"},"encoding":{"text":{"field":"s"}}},
{"data":{"values":[{"gx":488.3,"gy":167,"s":"A"}]},"mark":{"type":"text","fontSize":28,"fontStyle":"italic","angle":270,"align":"left","baseline":"alphabetic","dx":-38.6,"color":"#000"},"encoding":{"text":{"field":"s"}}},
{"data":{"values":[{"gx":488.3,"gy":167,"s":"fast"}]},"mark":{"type":"text","fontSize":20,"angle":270,"align":"left","baseline":"alphabetic","dx":-19.9,"dy":6,"color":"#000"},"encoding":{"text":{"field":"s"}}},
{"data":{"values":[{"gx":488.3,"gy":167,"s":"(%)"}]},"mark":{"type":"text","fontSize":28,"angle":270,"align":"left","baseline":"alphabetic","dx":20.1,"color":"#000"},"encoding":{"text":{"field":"s"}}},
{"data":{"values":[{"gx":951.5,"gy":168.7,"s":"%"}]},"mark":{"type":"text","fontSize":28,"angle":270,"align":"left","baseline":"alphabetic","dx":-55.9,"color":"#000"},"encoding":{"text":{"field":"s"}}},
{"data":{"values":[{"gx":951.5,"gy":168.7,"s":"I"}]},"mark":{"type":"text","fontSize":28,"fontStyle":"italic","angle":270,"align":"left","baseline":"alphabetic","dx":-31,"color":"#000"},"encoding":{"text":{"field":"s"}}},
{"data":{"values":[{"gx":951.5,"gy":168.7,"s":"res"}]},"mark":{"type":"text","fontSize":20,"angle":270,"align":"left","baseline":"alphabetic","dx":-23.2,"dy":6,"color":"#000"},"encoding":{"text":{"field":"s"}}},
{"data":{"values":[{"gx":951.5,"gy":168.7,"s":"(%)"}]},"mark":{"type":"text","fontSize":28,"angle":270,"align":"left","baseline":"alphabetic","dx":12.4,"color":"#000"},"encoding":{"text":{"field":"s"}}},
{"data":{"values":[{"gx":336.2,"gy":427,"s":"Experiment"},{"gx":806.1,"gy":427,"s":"Simulation"}]},
 "encoding":{"color":{"field":"s","type":"nominal","scale":{"domain":["Experiment","Simulation"],"range":["#000000","#e0281e"]},"legend":null}},
 "layer":[
  {"mark":{"type":"tick","orient":"horizontal","size":62,"thickness":5.5,"opacity":1}},
  {"mark":{"type":"text","align":"left","dx":49,"fontSize":28,"baseline":"middle"},"encoding":{"text":{"field":"s"}}}
 ]}
]
}
]
}
]
}
